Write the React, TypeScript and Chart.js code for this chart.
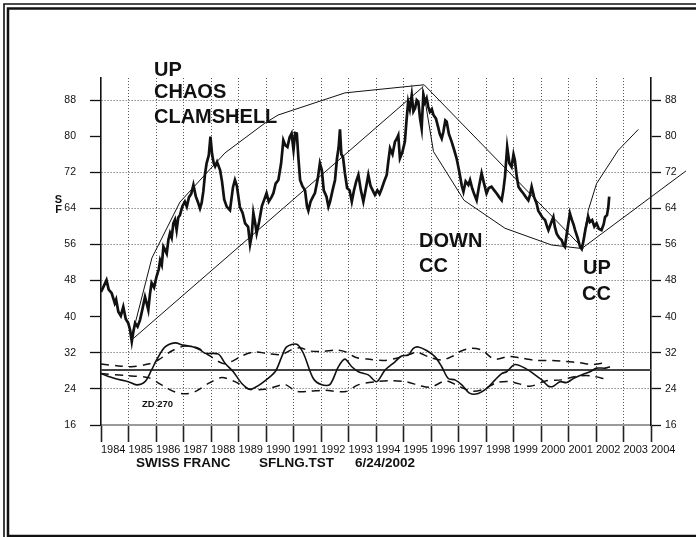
import React, { useEffect, useRef } from "react";
import { Chart, registerables } from "chart.js";

Chart.register(...registerables);

// ---- axis ticks ----
const xTicks = [1984, 1985, 1986, 1987, 1988, 1989, 1990, 1991, 1992, 1993, 1994, 1995, 1996, 1997, 1998, 1999, 2000, 2001, 2002, 2003, 2004];
const yTicks = [16, 24, 32, 40, 48, 56, 64, 72, 80, 88];

// ---- Swiss franc price (year, value) ----
const price: number[][] = [
  [1984.0, 45.5], [1984.08, 46.5], [1984.2, 48.1], [1984.28, 46.0], [1984.39, 45.2], [1984.5, 43.0], [1984.55, 43.8],
  [1984.63, 41.1], [1984.72, 40.2], [1984.81, 42.2], [1984.9, 39.5], [1984.99, 38.6], [1985.06, 37.0], [1985.12, 34.5],
  [1985.18, 36.8], [1985.24, 38.6], [1985.33, 37.8], [1985.42, 39.3], [1985.5, 41.5], [1985.6, 44.4], [1985.66, 43.0],
  [1985.72, 41.5], [1985.78, 45.0], [1985.84, 47.5], [1985.93, 46.5], [1986.02, 48.9], [1986.1, 50.5], [1986.15, 52.5],
  [1986.21, 51.5], [1986.27, 55.5], [1986.33, 54.8], [1986.39, 54.0], [1986.45, 57.0], [1986.51, 58.5], [1986.57, 57.5],
  [1986.63, 60.7], [1986.69, 61.5], [1986.75, 59.2], [1986.81, 62.0], [1986.87, 62.5], [1986.96, 64.5], [1987.05, 65.5],
  [1987.12, 64.4], [1987.2, 66.5], [1987.28, 67.2], [1987.36, 69.2], [1987.45, 66.6], [1987.52, 65.5], [1987.6, 64.0],
  [1987.66, 65.2], [1987.72, 67.7], [1987.78, 71.5], [1987.84, 74.0], [1987.92, 75.8], [1987.98, 79.9], [1988.04, 76.0],
  [1988.1, 74.0], [1988.15, 73.3], [1988.22, 74.3], [1988.33, 72.5], [1988.4, 70.0], [1988.48, 66.0], [1988.57, 64.4],
  [1988.69, 63.6], [1988.8, 68.7], [1988.87, 70.3], [1988.94, 69.0], [1989.05, 64.3], [1989.15, 63.0], [1989.24, 60.7],
  [1989.35, 59.9], [1989.42, 56.0], [1989.48, 58.0], [1989.54, 63.0], [1989.6, 61.0], [1989.66, 58.5], [1989.75, 61.0],
  [1989.85, 64.5], [1989.94, 66.0], [1990.02, 67.4], [1990.1, 65.5], [1990.2, 66.5], [1990.27, 67.4], [1990.35, 69.5],
  [1990.45, 70.3], [1990.55, 74.0], [1990.63, 79.1], [1990.7, 78.0], [1990.78, 77.6], [1990.86, 79.8], [1990.93, 80.6],
  [1991.0, 77.0], [1991.06, 80.7], [1991.12, 80.6], [1991.18, 75.0], [1991.24, 70.3], [1991.32, 69.0], [1991.42, 68.0],
  [1991.49, 64.5], [1991.54, 63.5], [1991.62, 65.5], [1991.7, 66.5], [1991.78, 67.4], [1991.88, 70.5], [1991.96, 74.0],
  [1992.03, 72.5], [1992.1, 68.0], [1992.2, 66.6], [1992.27, 64.4], [1992.33, 65.5], [1992.42, 68.0], [1992.51, 70.3],
  [1992.58, 75.0], [1992.64, 77.5], [1992.69, 81.5], [1992.74, 76.0], [1992.8, 75.4], [1992.87, 71.8], [1992.95, 68.5],
  [1993.04, 68.0], [1993.12, 65.5], [1993.2, 68.0], [1993.28, 70.0], [1993.36, 71.4], [1993.45, 68.0], [1993.54, 65.5],
  [1993.62, 68.0], [1993.72, 71.4], [1993.8, 69.0], [1993.88, 68.0], [1993.96, 67.0], [1994.05, 68.0], [1994.13, 67.2],
  [1994.21, 68.4], [1994.3, 70.0], [1994.39, 71.4], [1994.45, 74.5], [1994.51, 77.3], [1994.6, 76.0], [1994.69, 78.8],
  [1994.76, 79.5], [1994.81, 80.2], [1994.87, 75.1], [1994.96, 76.5], [1995.05, 78.8], [1995.11, 83.5], [1995.17, 87.6],
  [1995.23, 86.0], [1995.3, 89.1], [1995.36, 85.5], [1995.42, 86.2], [1995.48, 88.0], [1995.54, 87.6], [1995.6, 84.0],
  [1995.66, 81.7], [1995.72, 89.1], [1995.78, 87.5], [1995.84, 88.4], [1995.9, 86.5], [1995.96, 85.4], [1996.03, 86.0],
  [1996.09, 84.7], [1996.18, 83.9], [1996.26, 82.0], [1996.32, 80.5], [1996.39, 79.5], [1996.45, 81.0], [1996.52, 83.5],
  [1996.57, 83.2], [1996.65, 80.5], [1996.75, 78.8], [1996.84, 77.0], [1996.93, 75.1], [1997.0, 73.0], [1997.05, 71.4],
  [1997.12, 69.0], [1997.18, 67.7], [1997.26, 70.0], [1997.36, 69.2], [1997.42, 70.3], [1997.5, 68.4], [1997.58, 67.0],
  [1997.66, 65.8], [1997.75, 69.0], [1997.84, 71.8], [1997.93, 69.5], [1998.02, 67.3], [1998.1, 68.5], [1998.2, 68.8],
  [1998.3, 68.0], [1998.39, 67.3], [1998.48, 66.5], [1998.57, 65.8], [1998.63, 68.0], [1998.69, 71.0], [1998.77, 77.6],
  [1998.85, 74.0], [1998.93, 73.2], [1999.0, 76.0], [1999.05, 74.7], [1999.12, 71.0], [1999.18, 68.8], [1999.27, 68.0],
  [1999.36, 67.3], [1999.45, 66.5], [1999.54, 65.8], [1999.6, 67.0], [1999.66, 68.8], [1999.75, 66.5], [1999.84, 65.1],
  [1999.9, 63.5], [1999.96, 62.9], [2000.05, 62.0], [2000.15, 61.4], [2000.22, 60.0], [2000.27, 59.2], [2000.35, 60.5],
  [2000.45, 62.1], [2000.5, 60.0], [2000.57, 58.4], [2000.66, 57.5], [2000.75, 57.0], [2000.81, 56.0], [2000.87, 55.5],
  [2000.94, 58.5], [2001.05, 62.9], [2001.12, 61.5], [2001.18, 60.5], [2001.24, 59.2], [2001.33, 57.5], [2001.42, 55.5],
  [2001.48, 55.0], [2001.55, 57.0], [2001.62, 59.5], [2001.72, 62.1], [2001.78, 61.0], [2001.86, 61.4], [2001.94, 60.0],
  [2002.02, 60.7], [2002.1, 59.5], [2002.2, 59.2], [2002.28, 60.5], [2002.33, 62.1], [2002.4, 62.5], [2002.45, 64.4],
  [2002.48, 66.6],
];

// ---- clamshell lines ----
const upChaosUpper: number[][] = [[1985.12, 35.6], [1985.85, 53.0], [1986.87, 65.4], [1988.51, 76.3], [1989.96, 82.9], [1990.44, 84.7], [1992.87, 89.6], [1995.75, 91.4]];
const upChaosLower: number[][] = [[1985.18, 35.2], [1995.72, 91.0]];
const downCCUpper: number[][] = [[1995.75, 91.4], [2001.54, 55.1]];
const downCCLower: number[][] = [[1995.72, 90.3], [1996.09, 76.6], [1997.2, 65.8], [1998.69, 59.6], [2000.38, 55.9], [2001.5, 55.1]];
const upCCUpper: number[][] = [[2001.48, 55.1], [2001.72, 63.6], [2002.02, 69.5], [2002.81, 76.9], [2003.54, 81.5]];
const upCCLower: number[][] = [[2001.48, 55.1], [2005.27, 72.3]];

// ---- ZD 270 oscillator and its bands ----
const oscillator: number[][] = [
  [1984.0, 27.4], [1984.51, 26.3], [1984.99, 25.6], [1985.3, 24.9], [1985.6, 25.6], [1985.84, 28.2], [1986.02, 30.4],
  [1986.33, 33.3], [1986.69, 34.2], [1986.99, 33.7], [1987.36, 33.3], [1987.62, 32.6], [1987.78, 31.9], [1988.27, 31.7],
  [1988.51, 29.7], [1988.81, 27.8], [1989.12, 25.2], [1989.42, 23.9], [1989.6, 24.3], [1989.84, 25.2], [1990.33, 27.8],
  [1990.57, 31.1], [1990.75, 33.3], [1991.12, 33.9], [1991.36, 31.9], [1991.72, 26.3], [1992.03, 24.9], [1992.33, 25.0],
  [1992.63, 28.9], [1992.87, 30.6], [1993.12, 28.9], [1993.36, 27.8], [1993.72, 27.1], [1994.02, 25.6], [1994.33, 28.2],
  [1994.69, 30.0], [1994.93, 31.3], [1995.17, 31.5], [1995.36, 33.0], [1995.54, 33.3], [1995.84, 32.5], [1996.15, 31.1],
  [1996.39, 28.9], [1996.63, 26.3], [1996.87, 26.0], [1997.12, 24.9], [1997.42, 23.0], [1997.72, 23.0], [1998.03, 24.1],
  [1998.33, 26.0], [1998.57, 27.4], [1998.75, 27.8], [1999.05, 29.4], [1999.42, 28.6], [1999.72, 27.4], [2000.03, 26.0],
  [2000.27, 24.6], [2000.45, 24.6], [2000.69, 25.6], [2000.93, 25.4], [2001.18, 26.3], [2001.48, 27.1], [2001.78, 27.8],
  [2002.02, 28.6], [2002.33, 28.6], [2002.51, 28.9],
];
const bandUpper: number[][] = [
  [1984.0, 29.5], [1984.63, 29.1], [1985.11, 28.9], [1985.72, 29.5], [1986.08, 30.4], [1986.57, 32.4], [1987.05, 33.5],
  [1987.54, 33.0], [1987.96, 31.3], [1988.45, 29.6], [1988.8, 30.2], [1989.12, 31.3], [1989.6, 32.2], [1990.08, 31.8],
  [1990.57, 31.6], [1990.9, 32.6], [1991.24, 33.1], [1991.6, 32.4], [1992.03, 32.3], [1992.6, 32.6], [1992.9, 32.2],
  [1993.25, 31.0], [1993.7, 30.6], [1994.3, 30.3], [1994.75, 30.8], [1995.2, 31.6], [1995.5, 32.1], [1995.95, 31.0],
  [1996.4, 30.4], [1996.8, 31.3], [1997.1, 32.4], [1997.45, 33.0], [1997.85, 32.6], [1998.3, 30.6], [1998.85, 31.2],
  [1999.3, 30.8], [1999.85, 30.3], [2000.4, 30.3], [2000.9, 30.1], [2001.4, 29.8], [2001.9, 29.4], [2002.42, 29.9],
];
const bandLower: number[][] = [
  [1984.0, 27.4], [1985.0, 26.9], [1985.72, 26.5], [1986.2, 24.9], [1986.69, 23.3], [1987.05, 22.9], [1987.42, 23.4],
  [1987.96, 25.4], [1988.39, 26.5], [1988.87, 25.6], [1989.36, 24.0], [1989.96, 23.9], [1990.39, 24.6], [1990.69, 25.0],
  [1991.1, 23.5], [1991.6, 23.5], [1992.1, 23.7], [1992.9, 23.4], [1993.35, 24.9], [1994.0, 25.6], [1994.5, 25.8],
  [1995.1, 25.6], [1995.6, 24.7], [1996.0, 24.4], [1996.55, 25.8], [1997.0, 24.6], [1997.5, 23.5], [1997.9, 23.9],
  [1998.4, 25.4], [1998.9, 25.6], [1999.6, 24.6], [2000.2, 25.8], [2000.75, 26.0], [2001.3, 26.8], [2001.8, 26.9],
  [2002.4, 26.1],
];
const zdLevel: number[][] = [[1984, 28.2], [2004, 28.2]];

const toPts = (arr: number[][]) => arr.map(([x, y]) => ({ x, y }));

const INK = "#111";
const FONT = '"Liberation Sans", Arial, Helvetica, sans-serif';

const framePlugin = {
  id: "frameAndText",
  afterDraw(chart: any) {
    const ctx: CanvasRenderingContext2D = chart.ctx;
    ctx.save();
    // double frame
    ctx.strokeStyle = INK;
    ctx.lineWidth = 1.6;
    ctx.beginPath();
    ctx.moveTo(4, 545);
    ctx.lineTo(4, 4);
    ctx.lineTo(700, 4);
    ctx.stroke();
    ctx.lineWidth = 2.5;
    ctx.beginPath();
    ctx.moveTo(700, 536);
    ctx.lineTo(8, 536);
    ctx.lineTo(8, 8.5);
    ctx.lineTo(700, 8.5);
    ctx.stroke();

    ctx.fillStyle = INK;
    ctx.textBaseline = "alphabetic";
    ctx.textAlign = "left";
    ctx.font = `bold 20px ${FONT}`;
    ctx.fillText("UP", 154, 76);
    ctx.fillText("CHAOS", 154, 98);
    ctx.fillText("CLAMSHELL", 154, 123);
    ctx.fillText("DOWN", 419, 247);
    ctx.fillText("CC", 419, 272);
    ctx.fillText("UP", 583, 274);
    ctx.fillText("CC", 582, 300);

    ctx.font = `bold 9.5px ${FONT}`;
    ctx.fillText("ZD 270", 142, 407);

    ctx.font = `bold 11px ${FONT}`;
    ctx.textAlign = "center";
    ctx.fillText("S", 58.5, 203);
    ctx.fillText("F", 58.5, 213);

    ctx.textAlign = "left";
    ctx.font = `bold 13.5px ${FONT}`;
    ctx.fillText("SWISS FRANC", 136, 467);
    ctx.fillText("SFLNG.TST", 259, 467);
    ctx.fillText("6/24/2002", 355, 467);
    ctx.restore();
  },
};

export default function App() {
  const ref = useRef<HTMLCanvasElement | null>(null);

  useEffect(() => {
    if (!ref.current) return;
    const thin = { borderColor: INK, borderWidth: 1, pointRadius: 0, fill: false, tension: 0 };
    const chart = new Chart(ref.current, {
      type: "line",
      data: {
        datasets: [
          { ...thin, label: "Up chaos upper", data: toPts(upChaosUpper) },
          { ...thin, label: "Up chaos lower", data: toPts(upChaosLower) },
          { ...thin, label: "Down CC upper", data: toPts(downCCUpper) },
          { ...thin, label: "Down CC lower", data: toPts(downCCLower) },
          { ...thin, label: "Up CC upper", data: toPts(upCCUpper) },
          { ...thin, label: "Up CC lower", data: toPts(upCCLower), clip: false as any },
          { label: "SF", data: toPts(price), borderColor: INK, borderWidth: 2.7, pointRadius: 0, tension: 0 },
          { label: "ZD 270", data: toPts(oscillator), borderColor: INK, borderWidth: 1.6, pointRadius: 0, tension: 0.3 },
          { label: "Upper band", data: toPts(bandUpper), borderColor: "#111", borderWidth: 1.5, borderDash: [8, 6], pointRadius: 0, tension: 0.3 },
          { label: "Lower band", data: toPts(bandLower), borderColor: "#111", borderWidth: 1.5, borderDash: [8, 6], pointRadius: 0, tension: 0.3 },
          { label: "Level", data: toPts(zdLevel), borderColor: "#444", borderWidth: 2, pointRadius: 0 },
        ],
      },
      options: {
        responsive: false,
        animation: false,
        devicePixelRatio: 1,
        layout: { padding: { top: 78, left: 0, right: 0, bottom: 0 } },
        plugins: { legend: { display: false }, tooltip: { enabled: false }, title: { display: false } },
        scales: {
          x: {
            type: "linear",
            position: "bottom",
            min: 1984,
            max: 2004,
            afterFit: (s: any) => { s.height = 112; },
            afterBuildTicks: (s: any) => { s.ticks = xTicks.map((v) => ({ value: v })); },
            grid: {
              color: (c: any) => (c.tick && (c.tick.value === 1984 || c.tick.value === 2004) ? "rgba(0,0,0,0)" : "#555"),
              lineWidth: 1,
              drawTicks: true,
              tickLength: 17,
              tickColor: "#222",
              tickWidth: 1.6,
            },
            border: { display: true, color: "#9a9a9a", width: 2, dash: [1, 2] },
            ticks: {
              autoSkip: false,
              maxRotation: 0,
              minRotation: 0,
              align: "start",
              padding: 1,
              color: INK,
              font: { family: FONT, size: 11 },
              callback: (v: any) => String(v),
            },
          },
          y: {
            type: "linear",
            position: "left",
            min: 16,
            max: 92.9,
            afterFit: (s: any) => { s.width = 101; },
            afterBuildTicks: (s: any) => { s.ticks = yTicks.map((v) => ({ value: v })); },
            grid: {
              color: (c: any) => (c.tick && (c.tick.value === 80 || c.tick.value === 40 || c.tick.value === 16) ? "rgba(0,0,0,0)" : "#555"),
              lineWidth: 1,
              drawTicks: true,
              tickLength: 11,
              tickColor: INK,
              tickWidth: 1.3,
            },
            border: { display: true, color: INK, width: 1.6, dash: [1, 2] },
            ticks: {
              padding: 14,
              color: INK,
              font: { family: FONT, size: 10.5 },
              callback: (v: any) => String(v),
            },
          },
          y2: {
            type: "linear",
            position: "right",
            min: 16,
            max: 92.9,
            afterFit: (s: any) => { s.width = 45; },
            afterBuildTicks: (s: any) => { s.ticks = yTicks.map((v) => ({ value: v })); },
            grid: {
              drawOnChartArea: false,
              drawTicks: true,
              tickLength: 10,
              tickColor: INK,
              tickWidth: 1.3,
              color: INK,
            },
            border: { display: true, color: INK, width: 1.6 },
            ticks: {
              padding: 4,
              color: INK,
              font: { family: FONT, size: 10.5 },
              callback: (v: any) => String(v),
            },
          },
        },
      },
      plugins: [framePlugin],
    } as any);
    return () => chart.destroy();
  }, []);

  return (
    <div style={{ position: "fixed", left: 0, top: 0, width: 696, height: 537, background: "#fff" }}>
      <canvas ref={ref} width={696} height={537} style={{ width: 696, height: 537, display: "block" }} />
    </div>
  );
}
